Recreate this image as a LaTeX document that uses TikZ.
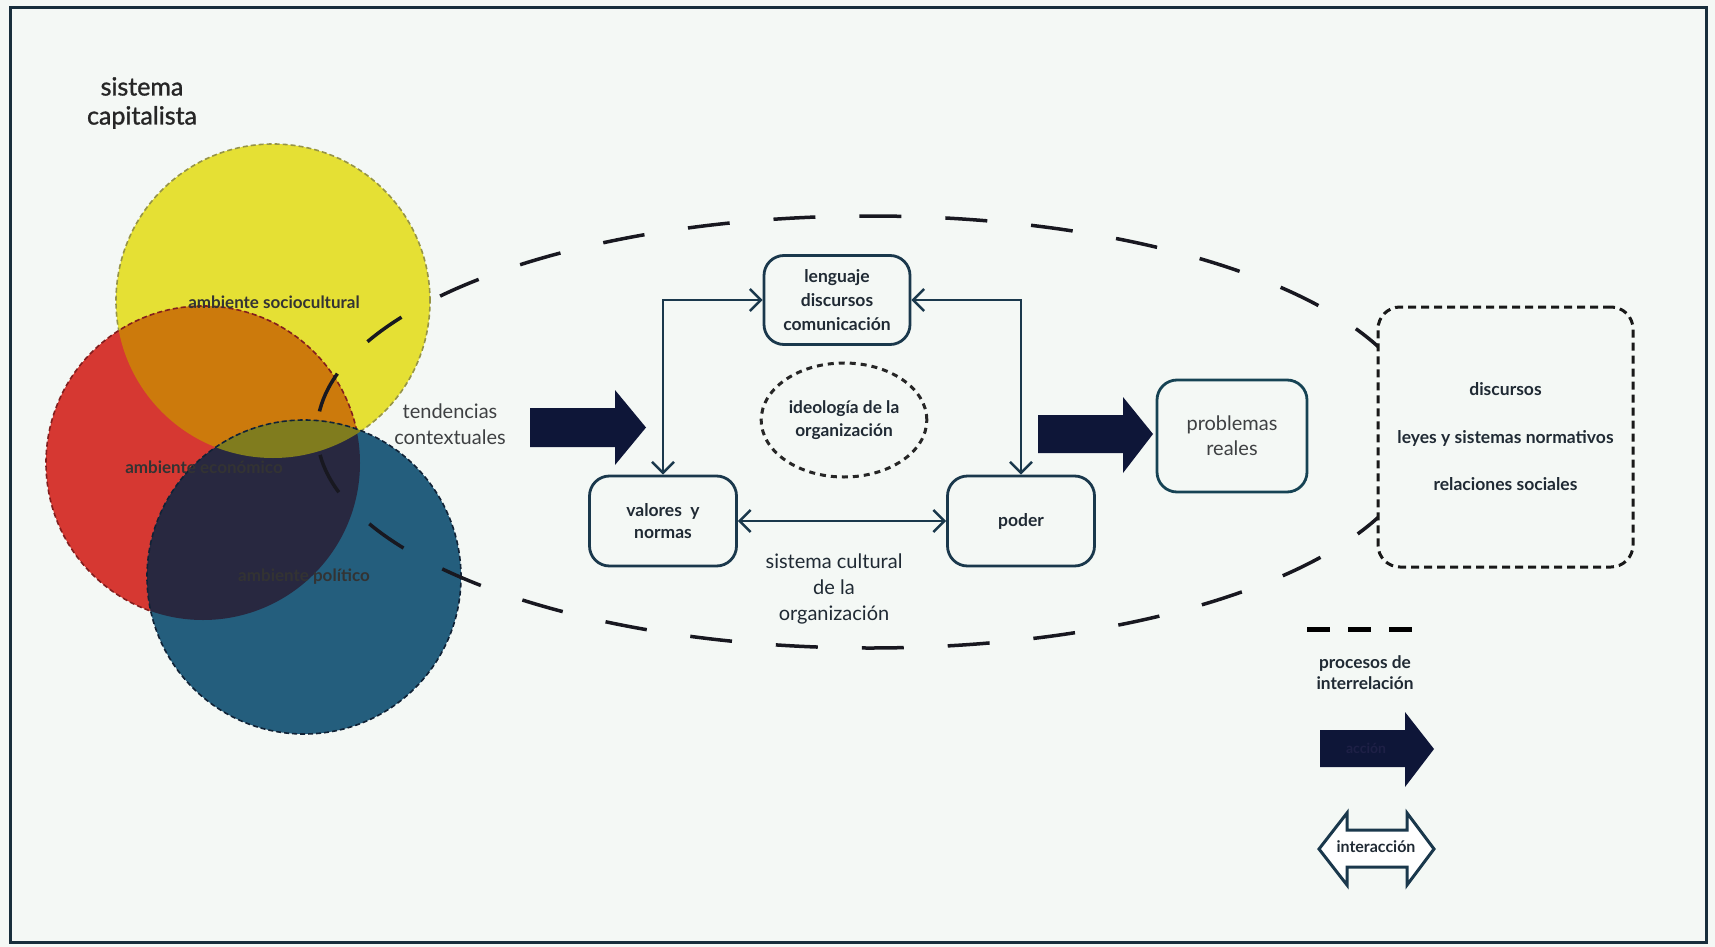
\documentclass[tikz,border=0pt]{standalone}
\usepackage{fontspec}
\setmainfont{Lato}
\newfontfamily\latomed{Lato}[FakeBold=1.2]
\usetikzlibrary{arrows.meta,shapes.geometric}

\definecolor{bgc}{RGB}{244,248,245}
\definecolor{framec}{RGB}{24,46,60}
\definecolor{boxc}{RGB}{26,56,76}
\definecolor{navyc}{RGB}{14,22,56}
\definecolor{txt}{RGB}{32,42,52}
\definecolor{greytxt}{RGB}{62,64,66}
\definecolor{ycol}{RGB}{229,224,52}
\definecolor{rcol}{RGB}{214,56,50}
\definecolor{ocol}{RGB}{204,122,12}
\definecolor{bcol}{RGB}{36,94,125}
\definecolor{ncol}{RGB}{40,40,64}
\definecolor{olcol}{RGB}{128,124,30}
\definecolor{yline}{RGB}{150,148,70}
\definecolor{rline}{RGB}{130,30,30}
\definecolor{bline}{RGB}{16,34,54}
\definecolor{dashc}{RGB}{24,24,32}

\begin{document}
\begin{tikzpicture}[x=1pt,y=-1pt,
  box/.style={draw=boxc, line width=2.8pt, rounded corners=20pt, fill=bgc,
    align=center, text=txt, inner sep=0pt,
    font=\bfseries\fontsize{17.5}{24}\selectfont},
  tip/.tip={Straight Barb[length=11pt,width=22pt]},
  conn/.style={draw=boxc, line width=2.5pt, tip-tip},
  circline/.style={line width=1.6pt, dash pattern=on 5pt off 3pt},
  circlabel/.style={font=\bfseries\fontsize{17}{20}\selectfont, text=black!80},
  blockarrow/.style={fill=navyc},
  plain/.style={align=center, text=greytxt, font=\fontsize{20}{26}\selectfont},
]
\useasboundingbox (0,0) rectangle (1715,947);
\fill[bgc] (0,0) rectangle (1715,947);
\draw[framec, line width=3pt] (10,8) rectangle (1706,942);

% three overlapping environments
\coordinate (cy) at (273,301);
\coordinate (cr) at (203,463);
\coordinate (cb) at (304,577);
\fill[ycol] (cy) circle[radius=157pt];
\draw[circline, yline] (cy) circle[radius=157pt];
\fill[rcol] (cr) circle[radius=157pt];
\begin{scope}
  \clip (cy) circle[radius=157pt];
  \fill[ocol] (cr) circle[radius=157pt];
\end{scope}
\draw[circline, rline] (cr) circle[radius=157pt];
\fill[bcol] (cb) circle[radius=157pt];
\begin{scope}
  \clip (cr) circle[radius=157pt];
  \fill[ncol] (cb) circle[radius=157pt];
\end{scope}
\begin{scope}
  \clip (cy) circle[radius=157pt];
  \fill[olcol] (cb) circle[radius=157pt];
\end{scope}
\draw[circline, bline] (cb) circle[radius=157pt];

\node[circlabel] (soc) at (274,302) {ambiente sociocultural};
\node[circlabel] (eco) at (204,467) {ambiente económico};
\node[circlabel] (pol) at (304,577) {ambiente político};

\node[align=center, text=black!85, font=\latomed\fontsize{25}{29}\selectfont] (cap) at (142,103) {sistema\\capitalista};

% cultural system boundary
\draw[dashc, line width=3.5pt, dash pattern=on 42pt off 44pt] (870,432) ellipse[x radius=553pt, y radius=216pt];

\node[plain] (tend) at (450,424) {tendencias\\contextuales};

% action arrows
\fill[blockarrow] (530,408) -- (615,408) -- (615,390) -- (646,427.5) -- (615,465) -- (615,447) -- (530,447) -- cycle;
\fill[blockarrow] (1038,415) -- (1123,415) -- (1123,397) -- (1153,434) -- (1123,473) -- (1123,453) -- (1038,453) -- cycle;

% organisation elements
\node[box, minimum width=146pt, minimum height=89pt] (leng) at (837,300) {lenguaje\\discursos\\comunicación};
\node[box, minimum width=147pt, minimum height=90pt, font=\bfseries\fontsize{17.5}{22}\selectfont] (val) at (663,521) {valores~ y\\normas};
\node[box, minimum width=147pt, minimum height=90pt] (pod) at (1021,521) {poder};
\node[ellipse, draw=black!85, line width=3pt, dash pattern=on 6pt off 5pt,
  minimum width=158pt, minimum height=114pt, align=center, text=txt,
  font=\bfseries\fontsize{17.3}{23}\selectfont] (ideo) at (844,420) {ideología de la\\organización};

\draw[conn] (val.north) |- (leng.west);
\draw[conn] (pod.north) |- (leng.east);
\draw[conn] (val.east) -- (pod.west);

\node[plain, text=txt] (scult) at (834,589) {sistema cultural\\de la\\organización};

\node[box, font=\fontsize{20}{25}\selectfont, text=greytxt, draw=boxc!85!teal,
  minimum width=150pt, minimum height=112pt] (prob) at (1232,436) {problemas\\reales};

\node[draw=black!90, line width=3pt, dash pattern=on 8pt off 5pt, rounded corners=22pt,
  fill=bgc, minimum width=255pt, minimum height=260pt, align=center, text=txt,
  font=\bfseries\fontsize{17.5}{47.5}\selectfont] (res) at (1505.5,437)
  {discursos\\leyes y sistemas normativos\\relaciones sociales};

% legend
\coordinate (la) at (1307,629);
\coordinate (lb) at (1414,629);
\draw[black, line width=5pt, dash pattern=on 23pt off 18pt] (la) -- (lb);
\node[align=center, text=txt, font=\bfseries\fontsize{17.3}{21}\selectfont] (lproc) at (1365,672.5) {procesos de\\interrelación};

\fill[blockarrow] (1320,730) -- (1405,730) -- (1405,712) -- (1434,749) -- (1405,787) -- (1405,767) -- (1320,767) -- cycle;
\node[text={rgb,255:red,30;green,32;blue,70}, font=\bfseries\fontsize{14}{17}\selectfont] (lacc) at (1366,748) {acción};

\draw[boxc, line width=3pt, fill=white, line join=miter]
  (1319,849) -- (1347,813) -- (1347,830) -- (1407,830) -- (1407,813) -- (1434,849)
  -- (1407,885) -- (1407,867) -- (1347,867) -- (1347,885) -- cycle;
\node[text=txt, font=\bfseries\fontsize{16}{19}\selectfont] (linter) at (1376,847) {interacción};
\end{tikzpicture}
\end{document}
